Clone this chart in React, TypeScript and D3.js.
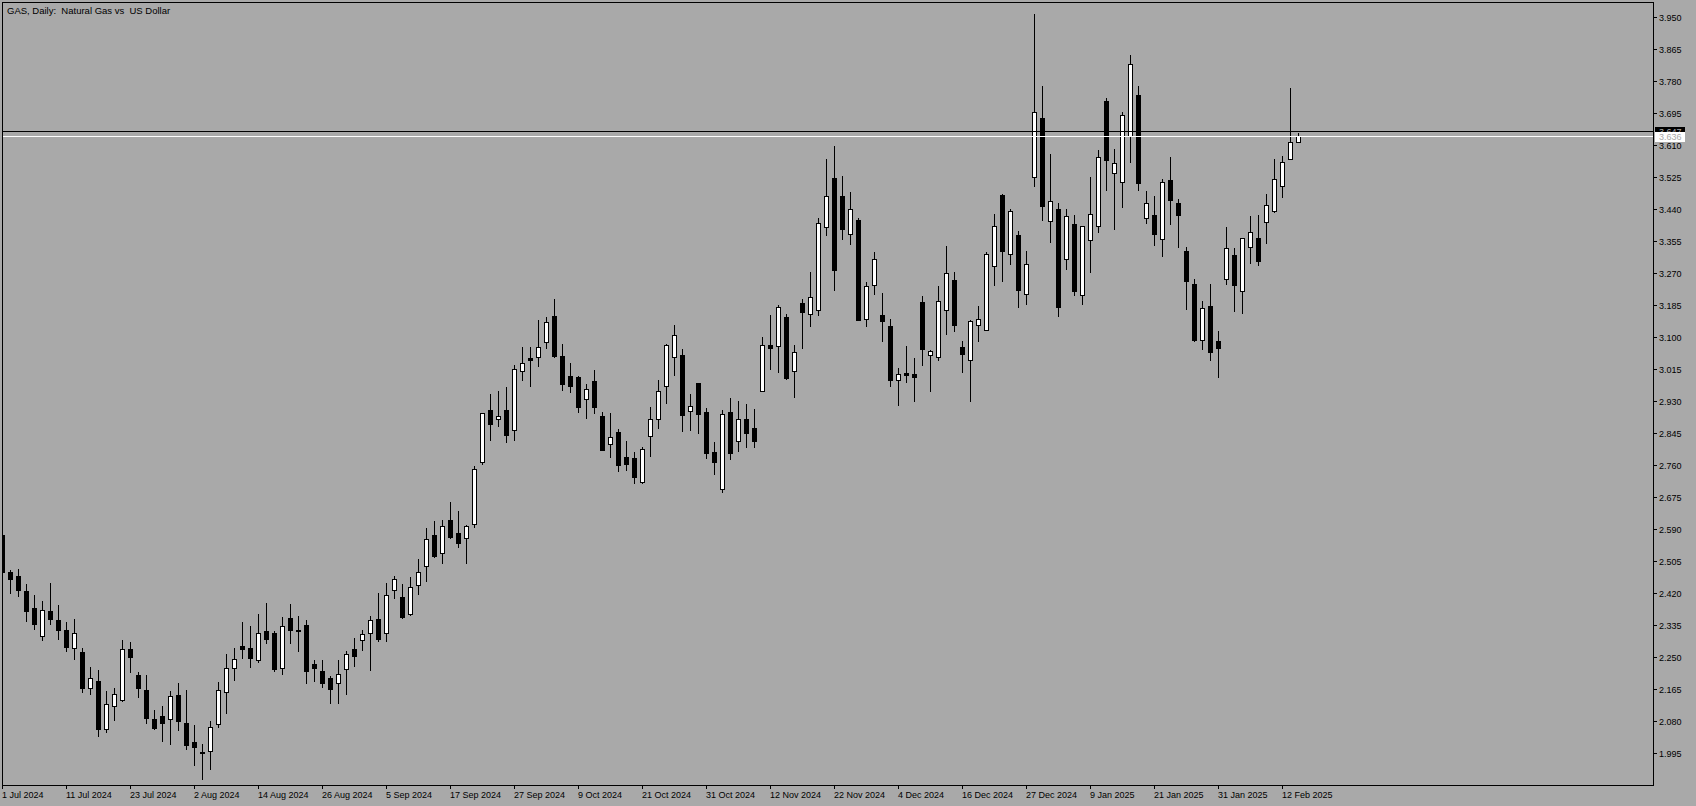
import React from "react";
import * as d3 from "d3";

const W = 1696;
const H = 806;

const title = "GAS, Daily:  Natural Gas vs  US Dollar";

const opens = [2.576,2.478,2.467,2.427,2.382,2.307,2.374,2.350,2.324,2.274, 2.264,2.169,2.188,2.059,2.121,2.137,2.272,2.204,2.163,2.086, 2.094,2.086,2.151,2.076,2.025,1.998,2.001,2.073,2.158,2.222, 2.281,2.276,2.244,2.321,2.315,2.221,2.355,2.322,2.336,2.233, 2.214,2.195,2.182,2.219,2.273,2.296,2.316,2.353,2.315,2.430, 2.410,2.366,2.441,2.493,2.576,2.526,2.615,2.580,2.567,2.604, 2.768,2.907,2.883,2.907,2.853,3.010,3.045,3.048,3.087,3.157, 3.051,2.997,2.995,2.936,2.985,2.892,2.817,2.848,2.783,2.779, 2.716,2.838,2.883,2.972,3.048,3.053,2.904,2.978,2.902,2.795, 2.697,2.902,2.825,2.883,2.859,2.957,3.079,3.077,3.154,3.011, 3.191,3.162,3.172,3.393,3.524,3.476,3.374,3.412,3.148,3.239, 3.160,3.131,2.987,3.004,3.003,3.195,3.053,3.047,3.172,3.253, 3.075,3.041,3.133,3.119,3.289,3.479,3.321,3.372,3.215,3.526, 3.683,3.409,3.442,3.308,3.402,3.212,3.358,3.395,3.728,3.536, 3.512,3.635,3.744,3.417,3.426,3.361,3.519,3.458,3.330,3.243, 3.093,3.184,3.089,3.255,3.319,3.222,3.340,3.364,3.406,3.436, 3.502,3.574,3.619];

const highs = [2.580,2.481,2.485,2.446,2.416,2.400,2.448,2.389,2.345,2.353, 2.275,2.224,2.216,2.161,2.169,2.297,2.292,2.210,2.204,2.110, 2.122,2.161,2.181,2.164,2.071,2.020,2.082,2.185,2.260,2.275, 2.345,2.334,2.366,2.395,2.321,2.358,2.392,2.361,2.350,2.243, 2.243,2.200,2.244,2.266,2.302,2.323,2.359,2.422,2.447,2.467, 2.445,2.463,2.511,2.594,2.613,2.616,2.663,2.639,2.601,2.759, 2.900,2.949,2.958,2.969,3.027,3.075,3.075,3.147,3.155,3.202, 3.082,3.032,2.997,2.977,3.014,2.902,2.899,2.856,2.825,2.795, 2.809,2.916,2.986,3.082,3.133,3.069,2.950,2.979,2.913,2.822, 2.907,2.940,2.931,2.923,2.910,3.101,3.160,3.186,3.163,3.080, 3.202,3.273,3.417,3.574,3.609,3.529,3.487,3.417,3.247,3.327, 3.218,3.150,3.018,3.077,3.044,3.209,3.067,3.237,3.343,3.273, 3.091,3.146,3.184,3.327,3.428,3.481,3.442,3.383,3.330,3.959, 3.768,3.586,3.458,3.442,3.426,3.396,3.527,3.598,3.735,3.601, 3.698,3.851,3.768,3.489,3.476,3.521,3.580,3.468,3.341,3.255, 3.197,3.243,3.118,3.394,3.338,3.364,3.423,3.426,3.481,3.574, 3.582,3.763,3.643];

const lows = [2.474,2.421,2.414,2.346,2.326,2.295,2.340,2.300,2.266,2.245, 2.157,2.154,2.040,2.051,2.085,2.135,2.212,2.144,2.075,2.059, 2.027,2.019,2.056,2.006,1.965,1.927,1.954,2.064,2.101,2.191, 2.249,2.225,2.238,2.289,2.215,2.205,2.289,2.266,2.181,2.188, 2.171,2.128,2.128,2.152,2.226,2.269,2.217,2.294,2.294,2.408, 2.355,2.362,2.419,2.452,2.516,2.500,2.567,2.542,2.500,2.595, 2.764,2.828,2.865,2.823,2.828,2.987,2.970,3.023,3.073,3.049, 2.959,2.956,2.903,2.887,2.898,2.800,2.781,2.744,2.749,2.712, 2.713,2.784,2.858,2.925,2.999,2.850,2.854,2.845,2.779,2.737, 2.689,2.778,2.797,2.808,2.808,2.957,3.017,3.009,2.989,2.941, 3.072,3.131,3.160,3.371,3.225,3.362,3.349,3.145,3.129,3.214, 3.091,2.972,2.921,2.981,2.932,3.027,2.957,3.041,3.108,3.116, 3.007,2.930,3.089,3.119,3.240,3.249,3.295,3.180,3.188,3.501, 3.412,3.352,3.156,3.281,3.213,3.189,3.273,3.379,3.492,3.387, 3.445,3.567,3.492,3.403,3.346,3.315,3.400,3.339,3.176,3.089, 3.068,3.039,2.996,3.243,3.169,3.164,3.297,3.293,3.351,3.433, 3.474,3.574,3.619];

const closes = [2.476,2.458,2.428,2.372,2.338,2.376,2.351,2.323,2.277,2.315, 2.168,2.194,2.059,2.126,2.153,2.272,2.250,2.170,2.088,2.062, 2.077,2.147,2.080,2.017,2.011,1.996,2.064,2.163,2.222,2.246, 2.271,2.249,2.315,2.300,2.219,2.333,2.322,2.320,2.213,2.221, 2.181,2.165,2.206,2.259,2.253,2.312,2.349,2.300,2.415,2.458, 2.356,2.436,2.476,2.564,2.520,2.599,2.571,2.553,2.599,2.750, 2.899,2.869,2.891,2.840,3.016,3.032,3.039,3.074,3.140,3.051, 2.975,2.970,2.914,2.963,2.914,2.801,2.835,2.760,2.763,2.728, 2.803,2.883,2.957,3.079,3.106,2.894,2.917,2.896,2.794,2.769, 2.896,2.794,2.883,2.845,2.824,3.079,3.071,3.180,2.991,3.061, 3.166,3.207,3.403,3.475,3.278,3.387,3.441,3.147,3.237,3.308, 3.144,2.988,3.003,3.001,2.996,3.068,3.064,3.196,3.271,3.132, 3.056,3.143,3.149,3.321,3.395,3.328,3.436,3.225,3.295,3.698, 3.448,3.462,3.180,3.422,3.222,3.396,3.427,3.579,3.570,3.563, 3.691,3.827,3.509,3.458,3.374,3.513,3.464,3.424,3.249,3.092, 3.178,3.061,3.073,3.337,3.238,3.364,3.380,3.304,3.451,3.520, 3.566,3.619,3.636];

const priceTicks = ["3.950","3.865","3.780","3.695","3.610","3.525","3.440","3.355","3.270","3.185","3.100","3.015","2.930","2.845","2.760","2.675","2.590","2.505","2.420","2.335","2.250","2.165","2.080","1.995"];

const dateLabels = ["1 Jul 2024","11 Jul 2024","23 Jul 2024","2 Aug 2024","14 Aug 2024","26 Aug 2024","5 Sep 2024","17 Sep 2024","27 Sep 2024","9 Oct 2024","21 Oct 2024","31 Oct 2024","12 Nov 2024","22 Nov 2024","4 Dec 2024","16 Dec 2024","27 Dec 2024","9 Jan 2025","21 Jan 2025","31 Jan 2025","12 Feb 2025"];
const dateBarIndex = [0,8,16,24,32,40,48,56,64,72,80,88,96,104,112,120,128,136,144,152,160];

const askPrice = 3.647;
const bidPrice = 3.636;

const BG = "#a9a9a9";
const FONT = '"Liberation Sans", Arial, sans-serif';

export default function App() {
  const n = opens.length;
  const left = 2, top = 2, right = 1653, bottom = 785;
  const x = d3.scaleLinear().domain([0, n - 1]).range([2.5, 2.5 + 8 * (n - 1)]);
  const y = d3.scaleLinear().domain([1.995, 3.95]).range([753.4, 17.3]);
  const py = (v: number) => Math.round(y(v));

  const candles = d3.range(n).map((i) => {
    const o = opens[i], h = highs[i], l = lows[i], c = closes[i];
    const cx = x(i);
    const bull = c >= o;
    const bt = py(Math.max(o, c));
    const bb = py(Math.min(o, c));
    return (
      <g key={i}>
        <line x1={cx} x2={cx} y1={py(h)} y2={py(l) + 1} stroke="#000" strokeWidth={1} />
        <rect x={cx - 2} y={bt + 0.5} width={4} height={Math.max(0, bb - bt)} fill={bull ? "#fff" : "#000"} stroke="#000" strokeWidth={1} />
      </g>
    );
  });

  const askY = py(askPrice) + 0.5;
  const bidY = py(bidPrice) + 0.5;

  return (
    <div style={{ position: "fixed", left: 0, top: 0, width: W, height: H, background: BG }}>
      <svg width={W} height={H} style={{ display: "block" }} shapeRendering="crispEdges">
        <defs>
          <clipPath id="plot">
            <rect x={left + 1} y={top + 1} width={right - left - 1} height={bottom - top - 1} />
          </clipPath>
        </defs>
        <rect x={0} y={0} width={W} height={H} fill={BG} />
        <g clipPath="url(#plot)">
          {candles}
          <line x1={left} x2={right} y1={askY} y2={askY} stroke="#000" strokeWidth={1} />
          <line x1={left} x2={right} y1={bidY} y2={bidY} stroke="#fff" strokeWidth={1} />
        </g>
        <rect x={left + 0.5} y={top + 0.5} width={right - left} height={bottom - top} fill="none" stroke="#000" strokeWidth={1} />
        <text x={7} y={13.5} fontFamily={FONT} fontSize={9.5} fill="#000" style={{ whiteSpace: "pre" }} textRendering="optimizeLegibility">{title}</text>
        {priceTicks.map((t) => {
          const ty = py(+t) + 0.5;
          return (
            <g key={t}>
              <line x1={right} x2={right + 4} y1={ty} y2={ty} stroke="#000" />
              <text x={right + 6} y={ty} dy="0.35em" fontFamily={FONT} fontSize={9} fill="#000" textRendering="optimizeLegibility">{t}</text>
            </g>
          );
        })}
        {dateLabels.map((d, k) => {
          const tx = x(dateBarIndex[k]);
          return (
            <g key={d}>
              <line x1={tx} x2={tx} y1={bottom} y2={bottom + 4} stroke="#000" />
              <text x={tx - 0.5} y={797.5} fontFamily={FONT} fontSize={9} fill="#000" textRendering="optimizeLegibility">{d}</text>
            </g>
          );
        })}
        <rect x={right + 2} y={askY - 5} width={30} height={10} fill="#000" />
        <text x={right + 6} y={askY} dy="0.35em" fontFamily={FONT} fontSize={9} fill={BG} textRendering="optimizeLegibility">{askPrice.toFixed(3)}</text>
        <rect x={right + 2} y={bidY - 5} width={30} height={10} fill="#fff" />
        <text x={right + 6} y={bidY} dy="0.35em" fontFamily={FONT} fontSize={9} fill={BG} textRendering="optimizeLegibility">{bidPrice.toFixed(3)}</text>
      </svg>
    </div>
  );
}
